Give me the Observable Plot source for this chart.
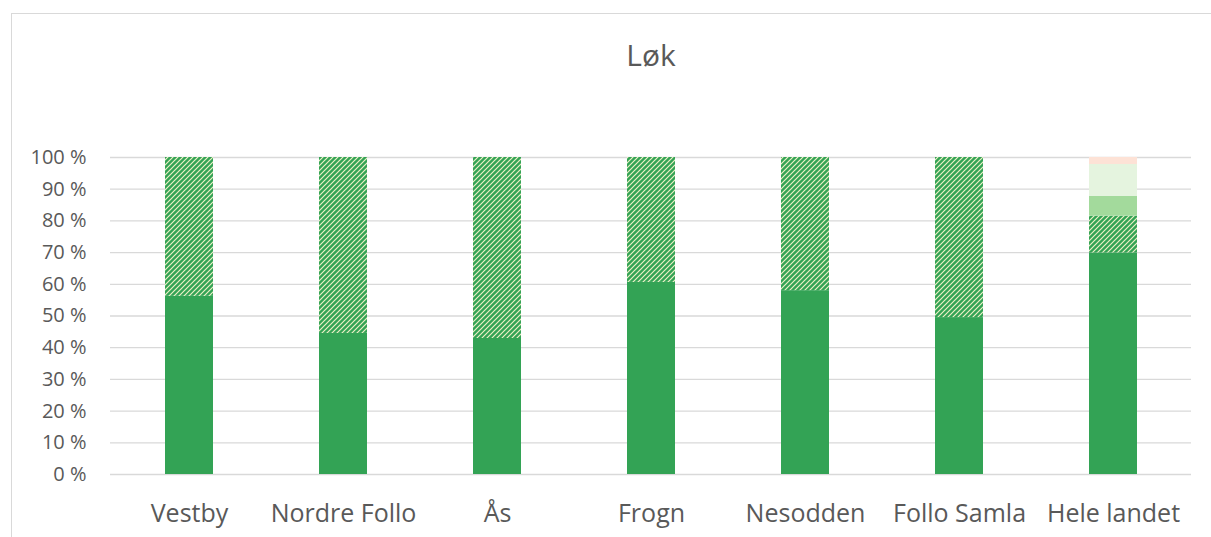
<!DOCTYPE html>
<html>
<head>
<meta charset="utf-8">
<script src="https://cdn.jsdelivr.net/npm/d3@7"></script>
<script src="https://cdn.jsdelivr.net/npm/@observablehq/plot@0.6"></script>
<style>
  html, body { margin: 0; padding: 0; background: #fff; }
  #wrap { position: relative; width: 1211px; height: 537px; overflow: hidden; }
  #frame { position: absolute; left: 11px; top: 13px; width: 1400px; height: 700px;
           border-left: 1.5px solid #d9d9d9; border-top: 1.5px solid #d9d9d9; }
  #chart { position: absolute; left: 0; top: 0; }
</style>
</head>
<body>
<div id="wrap"><div id="frame"></div><div id="chart"></div></div>
<script>
const title = "Løk";
const categories = ["Vestby", "Nordre Follo", "Ås", "Frogn", "Nesodden", "Follo Samla", "Hele landet"];
const seriesNames = ["Serie 1", "Serie 2", "Serie 3", "Serie 4", "Serie 5"];
const serie1 = [56.2, 44.5, 42.9, 60.6, 58.0, 49.5, 69.9];
const serie2 = [43.8, 55.5, 57.1, 39.4, 42.0, 50.5, 11.6];
const serie3 = [0, 0, 0, 0, 0, 0, 6.2];
const serie4 = [0, 0, 0, 0, 0, 0, 10.1];
const serie5 = [0, 0, 0, 0, 0, 0, 2.2];
const yTicks = [0, 10, 20, 30, 40, 50, 60, 70, 80, 90, 100];
const seriesColors = ["#33a355", "url(#hatch)", "#a3da9c", "#e5f4df", "#fde2d6"];

const allSeries = [serie1, serie2, serie3, serie4, serie5];
const data = [];
seriesNames.forEach((s, i) => {
  categories.forEach((c, j) => {
    data.push({series: s, category: c, value: allSeries[i][j]});
  });
});

const textColor = "#595959";
const chart = Plot.plot({
  width: 1211,
  height: 537,
  marginTop: 157,
  marginBottom: 63,
  marginLeft: 110,
  marginRight: 20,
  style: {fontFamily: "'Open Sans', sans-serif", background: "transparent", color: textColor},
  x: {domain: categories, paddingInner: 0.69, paddingOuter: 0.345, label: null},
  y: {domain: [0, 100], label: null},
  color: {domain: seriesNames, range: seriesColors},
  marks: [
    Plot.gridY(yTicks, {stroke: "#d9d9d9", strokeOpacity: 1, strokeWidth: 1.3}),
    Plot.barY(data, {x: "category", y: "value", fill: "series"}),
    Plot.axisX({tickSize: 0, tickPadding: 30, fontSize: 25, fill: textColor, label: null}),
    Plot.axisY({ticks: yTicks, tickFormat: d => d + " %", tickSize: 0, tickPadding: 24, fontSize: 20, fill: textColor, label: null}),
    Plot.text([title], {text: d => d, frameAnchor: "top", lineAnchor: "middle", dy: -101, fontSize: 30, fill: textColor})
  ]
});

const svg = d3.select(chart);
const defs = svg.insert("defs", ":first-child");
const pat = defs.append("pattern")
  .attr("id", "hatch")
  .attr("patternUnits", "userSpaceOnUse")
  .attr("width", 5).attr("height", 5);
pat.append("rect").attr("width", 5).attr("height", 5).attr("fill", "#33a355");
pat.append("path")
  .attr("d", "M0,5 L5,0 M-1.25,1.25 L1.25,-1.25 M3.75,6.25 L6.25,3.75")
  .attr("stroke", "#eef0c6").attr("stroke-width", 1.2);

document.getElementById("chart").appendChild(chart);
</script>
</body>
</html>
